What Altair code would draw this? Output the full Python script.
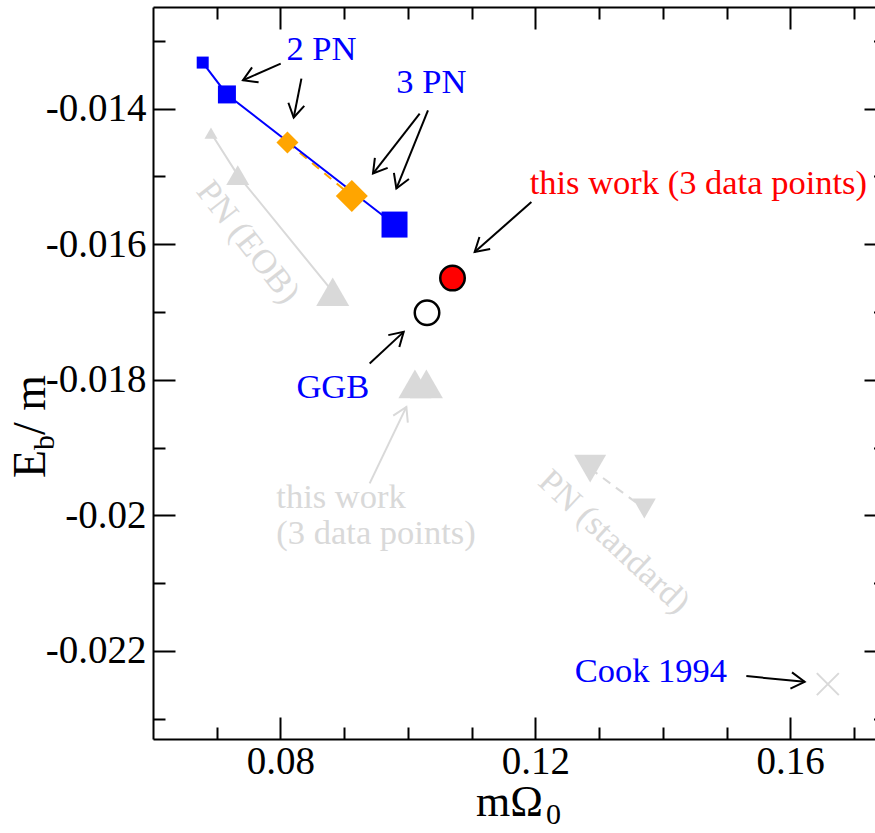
import math
import altair as alt
import pandas as pd

SERIF = "Liberation Serif"
BLUE = "#0000ff"
ORANGE = "#ffa500"
RED = "#ff0000"
GRAY = "#d9d9d9"
BLACK = "#000000"

# axis ranges and ticks
X_MIN, X_MAX = 0.06, 0.1733
Y_MIN, Y_MAX = -0.0233, -0.0125
W, H = 722, 732
X_MAJOR = [0.08, 0.12, 0.16]
X_MINOR = [0.07, 0.09, 0.10, 0.11, 0.13, 0.14, 0.15, 0.17]
Y_MAJOR = [-0.022, -0.020, -0.018, -0.016, -0.014]
Y_MINOR = [-0.023, -0.021, -0.019, -0.017, -0.015, -0.013]

# 2 PN sequence (blue squares, solid line)
pn2_x = [0.0678, 0.0716, 0.0979]
pn2_y = [-0.01332, -0.01379, -0.01571]
pn2_size = [144, 324, 676]

# 3 PN sequence (orange diamonds, dashed line)
pn3_x = [0.0811, 0.0912]
pn3_y = [-0.01450, -0.01529]
pn3_size = [484, 1024]

# PN (EOB) sequence (gray up-triangles)
eob_x = [0.0691, 0.0733, 0.0882]
eob_y = [-0.01436, -0.01498, -0.01670]
eob_size = [169, 529, 1089]

# PN (standard) sequence (gray down-triangles, dashed)
std_x = [0.1286, 0.1371]
std_y = [-0.01931, -0.01990]
std_size = [1024, 529]

# earlier "this work" estimate (gray triangles)
tw_x = [0.1011, 0.1029]
tw_y = [-0.01806, -0.01806]

# single results
ggb_x, ggb_y = 0.1030, -0.01701
red_x, red_y = 0.1070, -0.01650
cook_x, cook_y = 0.1659, -0.02249

# annotation arrows: tail -> tip
arr_x = [0.08004, 0.08329, 0.10185, 0.10315, 0.11938, 0.09400, 0.09400, 0.15311]
arr_y = [-0.013335, -0.013556, -0.014072, -0.014024, -0.015376, -0.017760, -0.019529, -0.022372]
arr_x2 = [0.07412, 0.08208, 0.09452, 0.09819, 0.11048, 0.09934, 0.09976, 0.16226]
arr_y2 = [-0.013581, -0.014131, -0.014957, -0.015178, -0.016114, -0.017293, -0.018400, -0.022456]
arr_color = [BLACK, BLACK, BLACK, BLACK, BLACK, BLACK, GRAY, BLACK]

# annotation texts (left aligned, alphabetic baseline)
lab_text = ["2 PN", "3 PN", "this work (3 data points)", "GGB", "this work", "(3 data points)", "Cook 1994"]
lab_x = [0.08093, 0.09819, 0.11911, 0.0825, 0.07936, 0.07936, 0.12617]
lab_y = [-0.013286, -0.013773, -0.015255, -0.018276, -0.019890, -0.020420, -0.022456]
lab_color = [BLUE, BLUE, RED, BLUE, GRAY, GRAY, BLUE]

# slanted labels along the gray sequences
rot_text = ["PN (EOB)", "PN (standard)"]
rot_x = [0.07485, 0.13230]
rot_y = [-0.015973, -0.020396]
rot_angle = [52, 43]

FONT = 34.5
TICK_FONT = 39
XS = alt.Scale(domain=[X_MIN, X_MAX], nice=False, zero=False)
YS = alt.Scale(domain=[Y_MIN, Y_MAX], nice=False, zero=False)


def pts(xs, ys, sizes=None):
    d = pd.DataFrame({"x": xs, "y": ys})
    if sizes is not None:
        d["s"] = sizes
    return d


def enc(ch, size=False):
    kw = dict(x=alt.X("x:Q", scale=XS, axis=None), y=alt.Y("y:Q", scale=YS, axis=None))
    if size:
        kw["size"] = alt.Size("s:Q", scale=None, legend=None)
    return ch.encode(**kw)


eob_line = enc(alt.Chart(pts(eob_x, eob_y)).mark_line(color=GRAY, strokeWidth=2))
eob_pts = enc(alt.Chart(pts(eob_x, eob_y, eob_size)).mark_point(
    shape="triangle-up", filled=True, color=GRAY, opacity=1), size=True)
std_line = enc(alt.Chart(pts(std_x, std_y)).mark_line(color=GRAY, strokeWidth=2, strokeDash=[9, 7]))
std_pts = enc(alt.Chart(pts(std_x, std_y, std_size)).mark_point(
    shape="triangle-down", filled=True, color=GRAY, opacity=1), size=True)
tw_pts = enc(alt.Chart(pts(tw_x, tw_y, [1089] * len(tw_x))).mark_point(
    shape="triangle-up", filled=True, color=GRAY, opacity=1), size=True)
cook_pt = enc(alt.Chart(pts([cook_x], [cook_y])).mark_point(
    shape="M-1,-1L1,1M-1,1L1,-1", filled=False, color=GRAY, strokeWidth=2, size=484, opacity=1))

pn3_line = enc(alt.Chart(pts(pn3_x, pn3_y)).mark_line(color=ORANGE, strokeWidth=2, strokeDash=[9, 7]))
pn2_line = enc(alt.Chart(pts(pn2_x, pn2_y)).mark_line(color=BLUE, strokeWidth=2))
pn2_pts = enc(alt.Chart(pts(pn2_x, pn2_y, pn2_size)).mark_point(
    shape="square", filled=True, color=BLUE, opacity=1), size=True)
pn3_pts = enc(alt.Chart(pts(pn3_x, pn3_y, pn3_size)).mark_point(
    shape="diamond", filled=True, color=ORANGE, opacity=1), size=True)

ggb_pt = enc(alt.Chart(pts([ggb_x], [ggb_y])).mark_point(
    shape="circle", filled=True, fill="white", stroke=BLACK, strokeWidth=2.5, size=600, opacity=1))
red_pt = enc(alt.Chart(pts([red_x], [red_y])).mark_point(
    shape="circle", filled=True, fill=RED, stroke=BLACK, strokeWidth=2.5, size=600, opacity=1))

# arrows
KX = W / (X_MAX - X_MIN)
KY = H / (Y_MAX - Y_MIN)
arr = pd.DataFrame({"x": arr_x, "y": arr_y, "x2": arr_x2, "y2": arr_y2, "c": arr_color})
arr["ang"] = [
    math.degrees(math.atan2(-(b2 - b1) * KY, (a2 - a1) * KX)) % 360
    for a1, b1, a2, b2 in zip(arr_x, arr_y, arr_x2, arr_y2)
]
arrow_shafts = alt.Chart(arr).mark_rule(strokeWidth=2).encode(
    x=alt.X("x:Q", scale=XS, axis=None), y=alt.Y("y:Q", scale=YS, axis=None),
    x2="x2:Q", y2="y2:Q", color=alt.Color("c:N", scale=None))
arrow_heads = alt.Chart(arr).mark_point(
    shape="M-1,-0.6L0,0L-1,0.6", filled=False, strokeWidth=2, size=729, opacity=1).encode(
    x=alt.X("x2:Q", scale=XS, axis=None), y=alt.Y("y2:Q", scale=YS, axis=None),
    angle=alt.Angle("ang:Q", scale=None), color=alt.Color("c:N", scale=None))

labels = alt.Chart(pd.DataFrame({"x": lab_x, "y": lab_y, "t": lab_text, "c": lab_color})).mark_text(
    font=SERIF, fontSize=FONT, align="left", baseline="alphabetic").encode(
    x=alt.X("x:Q", scale=XS, axis=None), y=alt.Y("y:Q", scale=YS, axis=None),
    text="t:N", color=alt.Color("c:N", scale=None))
rot_labels = alt.Chart(pd.DataFrame({"x": rot_x, "y": rot_y, "t": rot_text, "a": rot_angle})).mark_text(
    font=SERIF, fontSize=FONT, align="center", baseline="middle", color=GRAY).encode(
    x=alt.X("x:Q", scale=XS, axis=None), y=alt.Y("y:Q", scale=YS, axis=None),
    text="t:N", angle=alt.Angle("a:Q", scale=None))

# frame and inward-pointing ticks, built from offset axes
anchor = pd.DataFrame({"x": [0.1], "y": [-0.018]})
AX = dict(grid=False, title=None, domainColor=BLACK, domainWidth=2, tickColor=BLACK, tickWidth=2,
          labelFont=SERIF, labelFontSize=TICK_FONT, labelColor=BLACK, labelFlush=False, labelOverlap=False)


def frame_axis(orient, kind):
    if kind == "domain":
        return alt.Axis(orient=orient, domain=True, ticks=False, labels=False, **AX)
    if kind == "major":
        vals = X_MAJOR if orient in ("top", "bottom") else Y_MAJOR
        size, off = (11, -11) if orient == "right" else (22, -22)
    else:
        vals = X_MINOR if orient in ("top", "bottom") else Y_MINOR
        size, off = (1.5, -1.5) if orient == "right" else (12, -12)
    show = kind == "major" and orient in ("bottom", "left")
    extra = {}
    if show and orient == "bottom":
        extra = dict(labelExpr="format(datum.value, '.2f')", labelPadding=3)
    elif show:
        extra = dict(labelExpr="replace(format(datum.value, '.3~f'), '\u2212', '-')", labelPadding=7)
    return alt.Axis(orient=orient, domain=False, ticks=True, tickSize=size, offset=off,
                    values=vals, labels=show, **extra, **AX)


def axis_layer(xa, ya):
    return alt.Chart(anchor).mark_point(opacity=0).encode(
        x=alt.X("x:Q", scale=XS, axis=xa), y=alt.Y("y:Q", scale=YS, axis=ya))


axis_layers = [
    axis_layer(frame_axis("bottom", "domain"), frame_axis("left", "domain")),
    axis_layer(frame_axis("bottom", "major"), frame_axis("left", "major")),
    axis_layer(frame_axis("bottom", "minor"), frame_axis("left", "minor")),
    axis_layer(frame_axis("top", "domain"), frame_axis("right", "major")),
    axis_layer(frame_axis("top", "major"), frame_axis("right", "minor")),
    axis_layer(frame_axis("top", "minor"), None),
]


# axis titles with subscripts
def ptext(txt, px, py, size, angle=0):
    return alt.Chart(pd.DataFrame({"t": [txt]})).mark_text(
        font=SERIF, fontSize=size, align="left", baseline="alphabetic", color=BLACK, angle=angle).encode(
        x=alt.value(px), y=alt.value(py), text="t:N")


titles = [
    ptext("m\u03a9", 323, 809, 44),
    ptext("0", 393, 817, 30),
    ptext("E", -108, 471, 46, 270),
    ptext("b", -99, 443, 30, 270),
    ptext(" / m", -108, 428, 46, 270),
]

chart = alt.layer(
    *axis_layers,
    eob_line, eob_pts, std_line, std_pts, tw_pts, cook_pt,
    pn3_line, pn2_line, pn2_pts, pn3_pts, ggb_pt, red_pt,
    arrow_shafts, arrow_heads, labels, rot_labels, *titles,
).resolve_axis(x="independent", y="independent").properties(
    width=W, height=H,
    autosize=alt.AutoSizeParams(type="none"),
    padding={"left": 153, "top": 7, "right": 0, "bottom": 94},
    background="white",
).configure_view(stroke=None)

chart.save("out.html", embed_options={"renderer": "svg", "actions": False})
